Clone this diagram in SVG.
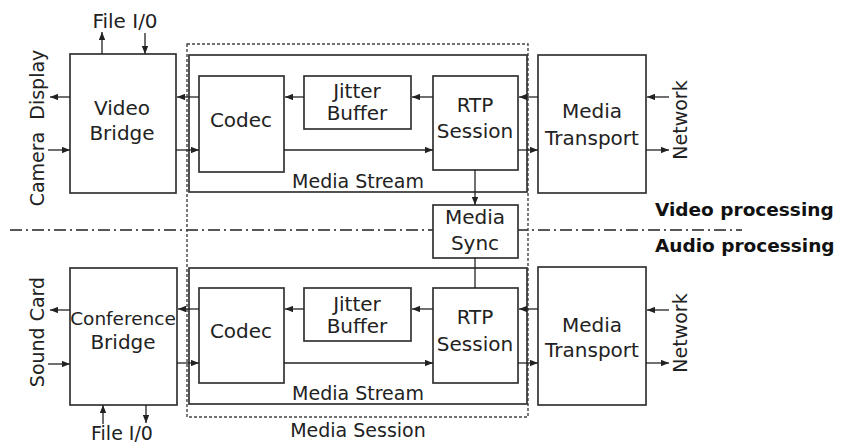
<svg xmlns="http://www.w3.org/2000/svg" width="843" height="445" viewBox="0 0 843 445">
  <style>
    .box { fill: #fff; stroke: #333; stroke-width: 1.7; }
    .frame { fill: none; stroke: #333; stroke-width: 1.7; }
    .session { fill: none; stroke: #444; stroke-width: 1.4; stroke-dasharray: 3 2; }
    .divider { fill: none; stroke: #222; stroke-width: 1.4; stroke-dasharray: 12 4 2 4; }
    .wire { fill: none; stroke: #222; stroke-width: 1.3; }
    .arrow { fill: none; stroke: #222; stroke-width: 1.3; marker-end: url(#head); }
    text { font-family: "DejaVu Sans", "Liberation Sans", sans-serif; font-size: 20px; fill: #222; text-anchor: middle; }
    .side { font-size: 19px; }
    .title { font-weight: bold; font-size: 18.5px; text-anchor: start; fill: #111; }
  </style>
  <defs>
    <marker id="head" viewBox="0 0 10 8" refX="10" refY="4" markerWidth="8" markerHeight="6.4" markerUnits="userSpaceOnUse" orient="auto">
      <path d="M0,0 L10,4 L0,8 z" fill="#222"/>
    </marker>
  </defs>

  <!-- separator between the video and audio halves -->
  <line class="divider" x1="10" y1="230" x2="742" y2="230"/>
  <text class="title" x="655" y="216">Video processing</text>
  <text class="title" x="655" y="252">Audio processing</text>

  <!-- media session (dashed) and the two media streams -->
  <g id="media-session">
    <rect class="session" x="187" y="44" width="341" height="373"/>
    <text x="358" y="437" class="side">Media Session</text>
  </g>
  <g id="media-stream-video">
    <rect class="frame" x="189" y="55" width="338" height="137"/>
    <text x="358" y="188" class="side">Media Stream</text>
  </g>
  <g id="media-stream-audio">
    <rect class="frame" x="189" y="268" width="338" height="136"/>
    <text x="358" y="400" class="side">Media Stream</text>
  </g>

  <!-- video half -->
  <g id="video-bridge">
    <rect class="box" x="70" y="54" width="106" height="139"/>
    <text x="122" y="115">Video</text>
    <text x="122" y="140">Bridge</text>
  </g>
  <g id="video-codec">
    <rect class="box" x="199" y="76" width="85" height="96"/>
    <text x="241" y="127">Codec</text>
  </g>
  <g id="video-jitter">
    <rect class="box" x="304" y="76" width="107" height="53"/>
    <text x="357" y="98">Jitter</text>
    <text x="357" y="120">Buffer</text>
  </g>
  <g id="video-rtp">
    <rect class="box" x="433" y="76" width="85" height="94"/>
    <text x="475" y="112">RTP</text>
    <text x="475" y="138">Session</text>
  </g>
  <g id="video-transport">
    <rect class="box" x="538" y="55" width="108" height="138"/>
    <text x="592" y="118">Media</text>
    <text x="592" y="145">Transport</text>
  </g>

  <!-- shared sync block -->
  <g id="media-sync">
    <rect class="box" x="433" y="205" width="85" height="53"/>
    <text x="475" y="224">Media</text>
    <text x="475" y="250">Sync</text>
  </g>

  <!-- audio half -->
  <g id="conference-bridge">
    <rect class="box" x="70" y="268" width="107" height="137"/>
    <text x="123" y="325" style="font-size:18.5px">Conference</text>
    <text x="123" y="349">Bridge</text>
  </g>
  <g id="audio-codec">
    <rect class="box" x="199" y="288" width="85" height="95"/>
    <text x="241" y="338">Codec</text>
  </g>
  <g id="audio-jitter">
    <rect class="box" x="304" y="288" width="107" height="53"/>
    <text x="357" y="311">Jitter</text>
    <text x="357" y="333">Buffer</text>
  </g>
  <g id="audio-rtp">
    <rect class="box" x="433" y="288" width="85" height="95"/>
    <text x="475" y="324">RTP</text>
    <text x="475" y="351">Session</text>
  </g>
  <g id="audio-transport">
    <rect class="box" x="538" y="267" width="108" height="138"/>
    <text x="592" y="332">Media</text>
    <text x="592" y="357">Transport</text>
  </g>

  <!-- external endpoints -->
  <g id="file-io-top">
    <text x="125" y="28">File I/0</text>
  </g>
  <g id="camera-display">
    <text class="side" transform="translate(44,128) rotate(-90)" xml:space="preserve">Camera  Display</text>
  </g>
  <g id="network-top">
    <text class="side" transform="translate(687,120) rotate(-90)">Network</text>
  </g>
  <g id="sound-card">
    <text class="side" transform="translate(44,332) rotate(-90)">Sound Card</text>
  </g>
  <g id="network-bottom">
    <text class="side" transform="translate(687,333) rotate(-90)">Network</text>
  </g>
  <g id="file-io-bottom">
    <text x="122" y="440" class="side">File I/0</text>
  </g>

  <!-- connectors -->
  <g id="connectors">
    <!-- video -->
    <line class="arrow" x1="102" y1="54" x2="102" y2="32"/>
    <line class="arrow" x1="145" y1="33" x2="145" y2="54"/>
    <line class="arrow" x1="70" y1="97" x2="50" y2="97"/>
    <line class="arrow" x1="48" y1="150" x2="70" y2="150"/>
    <line class="arrow" x1="199" y1="97" x2="177" y2="97"/>
    <line class="arrow" x1="176" y1="150" x2="199" y2="150"/>
    <line class="arrow" x1="304" y1="97" x2="285" y2="97"/>
    <line class="arrow" x1="433" y1="97" x2="412" y2="97"/>
    <line class="arrow" x1="538" y1="97" x2="519" y2="97"/>
    <line class="arrow" x1="284" y1="150" x2="433" y2="150"/>
    <line class="arrow" x1="518" y1="150" x2="538" y2="150"/>
    <line class="arrow" x1="669" y1="97" x2="647" y2="97"/>
    <line class="arrow" x1="646" y1="150" x2="669" y2="150"/>
    <line class="arrow" x1="475" y1="170" x2="475" y2="205"/>
    <!-- audio -->
    <line class="wire" x1="475" y1="258" x2="475" y2="288"/>
    <line class="arrow" x1="70" y1="310" x2="50" y2="310"/>
    <line class="arrow" x1="48" y1="364" x2="70" y2="364"/>
    <line class="arrow" x1="199" y1="309" x2="178" y2="309"/>
    <line class="arrow" x1="177" y1="363" x2="199" y2="363"/>
    <line class="arrow" x1="304" y1="309" x2="285" y2="309"/>
    <line class="arrow" x1="433" y1="309" x2="412" y2="309"/>
    <line class="arrow" x1="538" y1="309" x2="519" y2="309"/>
    <line class="arrow" x1="284" y1="363" x2="433" y2="363"/>
    <line class="arrow" x1="518" y1="363" x2="538" y2="363"/>
    <line class="arrow" x1="669" y1="310" x2="647" y2="310"/>
    <line class="arrow" x1="646" y1="363" x2="669" y2="363"/>
    <line class="arrow" x1="103" y1="424" x2="103" y2="405"/>
    <line class="arrow" x1="146" y1="405" x2="146" y2="423"/>
  </g>
</svg>
